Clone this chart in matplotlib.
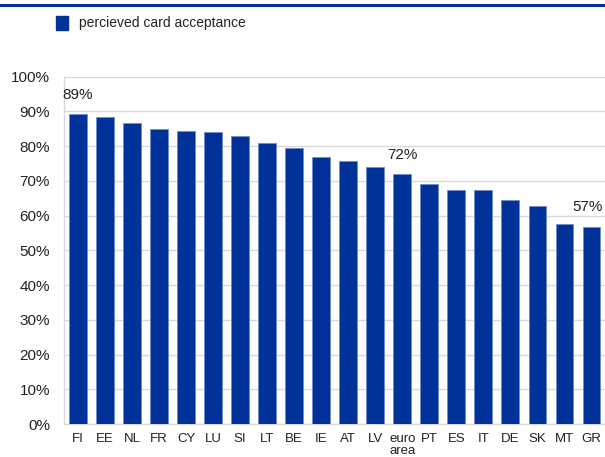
import matplotlib
matplotlib.use("Agg")
import matplotlib.pyplot as plt
from matplotlib.lines import Line2D
from matplotlib.patches import Rectangle

categories = ["FI", "EE", "NL", "FR", "CY", "LU", "SI", "LT", "BE", "IE", "AT", "LV",
              "euro\narea", "PT", "ES", "IT", "DE", "SK", "MT", "GR"]
acceptance = [89.3, 88.5, 86.6, 84.9, 84.4, 84.1, 83.0, 81.0, 79.4, 76.9, 75.7, 74.0,
              72.0, 69.2, 67.5, 67.5, 64.4, 62.7, 57.6, 56.8]
labelled = {"FI": "89%", "euro\narea": "72%", "GR": "57%"}
yticks = [0, 10, 20, 30, 40, 50, 60, 70, 80, 90, 100]
series_name = "percieved card acceptance"

plt.rcParams['font.family'] = ['Liberation Sans', 'DejaVu Sans']
BLUE = '#003299'

fig = plt.figure(figsize=(6.05, 4.57), dpi=100)
ax = fig.add_axes([0.1066, 0.0722, 0.8934, 0.760])

x = list(range(len(categories)))
ax.bar(x, acceptance, width=0.66, color=BLUE, edgecolor='#6f8ccc', linewidth=0.6, zorder=3)
ax.set_xlim(-0.5, len(categories) - 0.5)
ax.set_ylim(0, 100)
ax.set_yticks(yticks)
ax.set_yticklabels([f"{v}%" for v in yticks], fontsize=11, color='#222222')
ax.set_xticks(x)
ax.set_xticklabels(categories, fontsize=9.5, color='#222222', linespacing=1.05, va='top')
ax.tick_params(axis='y', length=0, pad=10.5)
ax.tick_params(axis='x', length=0, pad=6.5)
ax.grid(axis='y', color='#d9d9d9', linewidth=1.0, zorder=0)
for s in ['top', 'right']:
    ax.spines[s].set_visible(False)
for s in ['left', 'bottom']:
    ax.spines[s].set_color('#d9d9d9')
    ax.spines[s].set_linewidth(1.0)

last = len(categories) - 1
for i, (c, v) in enumerate(zip(categories, acceptance)):
    if c in labelled:
        dx = -3 if i == last else 0
        ax.annotate(labelled[c], (i, v), xytext=(dx, 11), textcoords='offset points',
                    ha='center', va='baseline', fontsize=11, color='#222222',
                    annotation_clip=False)

# top rule
fig.add_artist(Line2D([0, 1], [1 - 5 / 457, 1 - 5 / 457], color=BLUE, linewidth=2.2,
                      transform=fig.transFigure))
# legend
fig.add_artist(Rectangle((56 / 605, 1 - 30 / 457), 12 / 605, 14 / 457,
                         transform=fig.transFigure, color=BLUE))
fig.text(79 / 605, 1 - 23 / 457, series_name, fontsize=10, va='center', ha='left',
         color='#222222')

fig.savefig("out.png", dpi=100)
